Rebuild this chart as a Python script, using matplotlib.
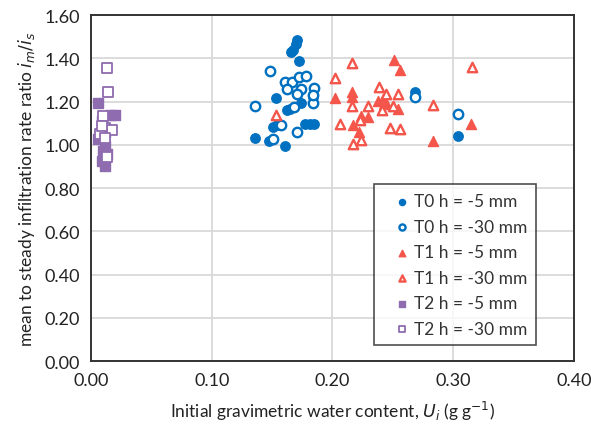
import matplotlib.pyplot as plt

plt.rcParams['font.family'] = ['Lato', 'DejaVu Sans']

# T0 (blue circles)
t0_5_x = [0.1708, 0.1697, 0.1670, 0.1653, 0.1720, 0.1530, 0.1740, 0.1620, 0.1645,
          0.1510, 0.1540, 0.1770, 0.1810, 0.1850, 0.1355, 0.1476, 0.1610, 0.1840,
          0.2680, 0.3040]
t0_5_y = [1.485, 1.466, 1.438, 1.432, 1.386, 1.215, 1.193, 1.161, 1.166,
          1.083, 1.093, 1.096, 1.096, 1.096, 1.031, 1.019, 0.995, 1.220,
          1.243, 1.039]
t0_30_x = [0.1482, 0.1358, 0.1606, 0.1661, 0.1724, 0.1780, 0.1625, 0.1736, 0.1708,
           0.1846, 0.1840, 0.1680, 0.1578, 0.1708, 0.1509, 0.1835, 0.2680, 0.3040]
t0_30_y = [1.343, 1.179, 1.293, 1.293, 1.315, 1.319, 1.258, 1.261, 1.235,
           1.262, 1.192, 1.176, 1.090, 1.060, 1.026, 1.230, 1.222, 1.141]

# T1 (red triangles)
t1_5_x = [0.2508, 0.2558, 0.2020, 0.2166, 0.2166, 0.2422, 0.2445, 0.2544, 0.2240,
          0.2296, 0.2172, 0.2222, 0.2834, 0.3151, 0.2380, 0.2430]
t1_5_y = [1.394, 1.346, 1.216, 1.243, 1.222, 1.211, 1.196, 1.165, 1.134,
          1.127, 1.091, 1.062, 1.016, 1.096, 1.203, 1.190]
t1_30_x = [0.2163, 0.2020, 0.2384, 0.2445, 0.2541, 0.2166, 0.2296, 0.2414, 0.2502,
           0.2061, 0.2227, 0.2475, 0.2558, 0.2240, 0.2171, 0.2834, 0.3160, 0.1530]
t1_30_y = [1.381, 1.309, 1.266, 1.235, 1.235, 1.181, 1.181, 1.161, 1.181,
           1.099, 1.114, 1.077, 1.073, 1.022, 1.003, 1.185, 1.361, 1.139]

# T2 (purple squares)
t2_5_x = [0.0061, 0.0199, 0.0157, 0.0102, 0.0116, 0.0088, 0.0116, 0.0060, 0.0088,
          0.0120, 0.0130]
t2_5_y = [1.192, 1.139, 1.139, 0.972, 0.995, 0.926, 0.903, 1.026, 1.111,
          1.060, 0.960]
t2_30_x = [0.0130, 0.0144, 0.0102, 0.0116, 0.0171, 0.0075, 0.0116, 0.0130, 0.0088]
t2_30_y = [1.355, 1.247, 1.134, 1.077, 1.068, 1.049, 1.031, 0.942, 1.088]

blue = '#0070c0'
red = '#f4564b'
purple = '#8f6cb0'

fig = plt.figure(figsize=(5.91, 4.27), dpi=100)
ax = fig.add_axes([0.154, 0.152, 0.817, 0.81])

ms = 46
lw = 1.7
ax.scatter(t0_5_x, t0_5_y, s=ms, marker='o', color=blue, zorder=3, label='T0 h = -5 mm')
ax.scatter(t0_30_x, t0_30_y, s=ms, marker='o', facecolor='white', edgecolor=blue,
           linewidth=lw, zorder=4, label='T0 h = -30 mm')
ax.scatter(t1_5_x, t1_5_y, s=ms + 6, marker='^', color=red, zorder=3, label='T1 h = -5 mm')
ax.scatter(t1_30_x, t1_30_y, s=ms, marker='^', facecolor='white', edgecolor=red,
           linewidth=lw, zorder=4, label='T1 h = -30 mm')
ax.scatter(t2_5_x, t2_5_y, s=ms + 10, marker='s', color=purple, zorder=3, label='T2 h = -5 mm')
ax.scatter(t2_30_x, t2_30_y, s=ms, marker='s', facecolor='white', edgecolor=purple,
           linewidth=1.3, zorder=4, label='T2 h = -30 mm')

ax.set_xlim(0, 0.4)
ax.set_ylim(0, 1.6)
ax.set_xticks([0, 0.1, 0.2, 0.3, 0.4])
ax.set_xticklabels(['0.00', '0.10', '0.20', '0.30', '0.40'])
ax.set_yticks([i * 0.2 for i in range(9)])
ax.set_yticklabels(['%.2f' % (i * 0.2) for i in range(9)])
ax.tick_params(length=0, labelsize=13, colors='#222222', pad=8)
ax.grid(True, color='#d9d9d9', linewidth=1.3)
ax.set_axisbelow(True)
for s in ax.spines.values():
    s.set_color('#333333')
    s.set_linewidth(1.4)

ax.set_xlabel('Initial gravimetric water content, $U_i$ (g g$^{-1}$)', fontsize=12.5,
              color='#222222', labelpad=8)
ax.set_ylabel('mean to steady infiltration rate ratio $i_m/i_s$', fontsize=12.5,
              color='#222222', labelpad=5)

leg = ax.legend(loc='lower right', bbox_to_anchor=(0.94, 0.02), fontsize=12.5,
                frameon=True, fancybox=False, edgecolor='#222222', markerscale=0.65,
                handletextpad=-0.4, borderpad=0.5, labelspacing=0.55, handlelength=2.2)
leg.get_frame().set_linewidth(1.2)
for t in leg.get_texts():
    t.set_color('#333333')

fig.savefig('out.png', dpi=100)
